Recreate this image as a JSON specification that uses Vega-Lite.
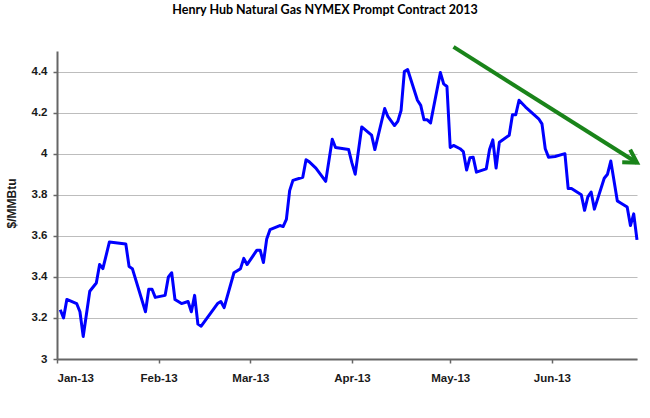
{
  "$schema": "https://vega.github.io/schema/vega-lite/v6.json",
  "width": 580,
  "height": 308,
  "autosize": {"type": "none"},
  "padding": {"left": 57, "top": 51, "right": 13, "bottom": 59},
  "background": "white",
  "title": {
    "text": "Henry Hub Natural Gas NYMEX Prompt Contract 2013",
    "font": "Lato",
    "fontSize": 12.5,
    "fontWeight": "bold",
    "color": "#000000",
    "anchor": "middle",
    "dx": -22,
    "offset": 28
  },
  "config": {
    "view": {"stroke": null},
    "style": {
      "guide-label": {"font": "Arial, Liberation Sans, sans-serif", "fontWeight": "bold"},
      "guide-title": {"font": "Arial, Liberation Sans, sans-serif", "fontWeight": "bold"}
    },
    "axis": {
      "labelFont": "Arial, Liberation Sans, sans-serif",
      "labelFontSize": 11.5,
      "labelFontWeight": "bold",
      "labelColor": "#1a1a1a",
      "titleFont": "Arial, Liberation Sans, sans-serif",
      "titleFontSize": 12,
      "titleFontWeight": "bold",
      "titleColor": "#1a1a1a",
      "domainColor": "#666666",
      "domainWidth": 2,
      "tickColor": "#666666",
      "tickWidth": 1.5,
      "tickSize": 4
    }
  },
  "layer": [
    {
      "data": {
        "values": [
          {"date": "2013-01-02", "price": 3.24},
          {"date": "2013-01-03", "price": 3.20},
          {"date": "2013-01-04", "price": 3.29},
          {"date": "2013-01-07", "price": 3.27},
          {"date": "2013-01-08", "price": 3.23},
          {"date": "2013-01-09", "price": 3.11},
          {"date": "2013-01-11", "price": 3.33},
          {"date": "2013-01-13", "price": 3.37},
          {"date": "2013-01-14", "price": 3.46},
          {"date": "2013-01-15", "price": 3.44},
          {"date": "2013-01-17", "price": 3.57},
          {"date": "2013-01-22", "price": 3.56},
          {"date": "2013-01-23", "price": 3.45},
          {"date": "2013-01-24", "price": 3.44},
          {"date": "2013-01-28", "price": 3.23},
          {"date": "2013-01-29", "price": 3.34},
          {"date": "2013-01-30", "price": 3.34},
          {"date": "2013-01-31", "price": 3.30},
          {"date": "2013-02-03", "price": 3.31},
          {"date": "2013-02-04", "price": 3.40},
          {"date": "2013-02-05", "price": 3.42},
          {"date": "2013-02-06", "price": 3.29},
          {"date": "2013-02-08", "price": 3.27},
          {"date": "2013-02-10", "price": 3.28},
          {"date": "2013-02-11", "price": 3.23},
          {"date": "2013-02-12", "price": 3.31},
          {"date": "2013-02-13", "price": 3.17},
          {"date": "2013-02-14", "price": 3.16},
          {"date": "2013-02-19", "price": 3.27},
          {"date": "2013-02-20", "price": 3.28},
          {"date": "2013-02-21", "price": 3.25},
          {"date": "2013-02-24", "price": 3.42},
          {"date": "2013-02-26", "price": 3.44},
          {"date": "2013-02-27", "price": 3.49},
          {"date": "2013-02-28", "price": 3.46},
          {"date": "2013-03-03", "price": 3.53},
          {"date": "2013-03-04", "price": 3.53},
          {"date": "2013-03-05", "price": 3.47},
          {"date": "2013-03-06", "price": 3.585},
          {"date": "2013-03-07", "price": 3.63},
          {"date": "2013-03-10", "price": 3.65},
          {"date": "2013-03-11", "price": 3.645},
          {"date": "2013-03-12", "price": 3.68},
          {"date": "2013-03-13", "price": 3.82},
          {"date": "2013-03-14", "price": 3.87},
          {"date": "2013-03-17", "price": 3.885},
          {"date": "2013-03-18", "price": 3.97},
          {"date": "2013-03-19", "price": 3.96},
          {"date": "2013-03-21", "price": 3.93},
          {"date": "2013-03-24", "price": 3.865},
          {"date": "2013-03-26", "price": 4.07},
          {"date": "2013-03-27", "price": 4.03},
          {"date": "2013-03-31", "price": 4.02},
          {"date": "2013-04-01", "price": 3.955},
          {"date": "2013-04-02", "price": 3.90},
          {"date": "2013-04-04", "price": 4.13},
          {"date": "2013-04-07", "price": 4.09},
          {"date": "2013-04-08", "price": 4.02},
          {"date": "2013-04-11", "price": 4.22},
          {"date": "2013-04-12", "price": 4.18},
          {"date": "2013-04-14", "price": 4.137},
          {"date": "2013-04-15", "price": 4.157},
          {"date": "2013-04-16", "price": 4.21},
          {"date": "2013-04-17", "price": 4.40},
          {"date": "2013-04-18", "price": 4.41},
          {"date": "2013-04-21", "price": 4.26},
          {"date": "2013-04-22", "price": 4.235},
          {"date": "2013-04-23", "price": 4.165},
          {"date": "2013-04-24", "price": 4.165},
          {"date": "2013-04-25", "price": 4.15},
          {"date": "2013-04-28", "price": 4.395},
          {"date": "2013-04-29", "price": 4.34},
          {"date": "2013-04-30", "price": 4.327},
          {"date": "2013-05-01", "price": 4.03},
          {"date": "2013-05-02", "price": 4.04},
          {"date": "2013-05-04", "price": 4.024},
          {"date": "2013-05-05", "price": 4.01},
          {"date": "2013-05-06", "price": 3.92},
          {"date": "2013-05-07", "price": 3.98},
          {"date": "2013-05-08", "price": 3.983},
          {"date": "2013-05-09", "price": 3.91},
          {"date": "2013-05-12", "price": 3.926},
          {"date": "2013-05-13", "price": 4.02},
          {"date": "2013-05-14", "price": 4.067},
          {"date": "2013-05-15", "price": 3.93},
          {"date": "2013-05-16", "price": 4.056},
          {"date": "2013-05-19", "price": 4.09},
          {"date": "2013-05-20", "price": 4.19},
          {"date": "2013-05-21", "price": 4.19},
          {"date": "2013-05-22", "price": 4.26},
          {"date": "2013-05-24", "price": 4.227},
          {"date": "2013-05-28", "price": 4.17},
          {"date": "2013-05-29", "price": 4.145},
          {"date": "2013-05-30", "price": 4.024},
          {"date": "2013-05-31", "price": 3.983},
          {"date": "2013-06-02", "price": 3.986},
          {"date": "2013-06-05", "price": 4.0},
          {"date": "2013-06-06", "price": 3.83},
          {"date": "2013-06-07", "price": 3.83},
          {"date": "2013-06-10", "price": 3.80},
          {"date": "2013-06-11", "price": 3.724},
          {"date": "2013-06-12", "price": 3.79},
          {"date": "2013-06-13", "price": 3.813},
          {"date": "2013-06-14", "price": 3.73},
          {"date": "2013-06-17", "price": 3.88},
          {"date": "2013-06-18", "price": 3.90},
          {"date": "2013-06-19", "price": 3.964},
          {"date": "2013-06-21", "price": 3.77},
          {"date": "2013-06-22", "price": 3.76},
          {"date": "2013-06-24", "price": 3.74},
          {"date": "2013-06-25", "price": 3.65},
          {"date": "2013-06-26", "price": 3.707},
          {"date": "2013-06-27", "price": 3.58}
        ]
      },
      "mark": {"type": "line", "color": "#0000FF", "strokeWidth": 3, "strokeJoin": "round"},
      "encoding": {
        "x": {
          "field": "date",
          "type": "temporal",
          "scale": {
            "type": "utc",
            "domain": [
              {"year": 2013, "month": 1, "date": 1, "utc": true},
              {"year": 2013, "month": 6, "date": 27, "utc": true}
            ]
          },
          "axis": {
            "title": null,
            "grid": false,
            "values": [
              {"year": 2013, "month": 1, "date": 1, "utc": true},
              {"year": 2013, "month": 2, "date": 1, "utc": true},
              {"year": 2013, "month": 3, "date": 1, "utc": true},
              {"year": 2013, "month": 4, "date": 1, "utc": true},
              {"year": 2013, "month": 5, "date": 1, "utc": true},
              {"year": 2013, "month": 6, "date": 1, "utc": true}
            ],
            "labelExpr": "utcFormat(datum.value, '%b-%y')",
            "labelFont": "Arial, Liberation Sans, sans-serif",
            "labelPadding": 9
          }
        },
        "y": {
          "field": "price",
          "type": "quantitative",
          "scale": {"domain": [3, 4.5], "zero": false, "nice": false},
          "axis": {
            "title": "$/MMBtu",
            "values": [3, 3.2, 3.4, 3.6, 3.8, 4, 4.2, 4.4],
            "format": "~g",
            "grid": true,
            "gridColor": "#bdbdbd",
            "gridWidth": 1.2,
            "labelFont": "Arial, Liberation Sans, sans-serif",
            "titleFont": "Arial, Liberation Sans, sans-serif",
            "labelPadding": 6,
            "titleX": -39,
            "titleY": 152
          }
        }
      }
    },
    {
      "data": {"values": [{"date": "2013-05-02", "price": 4.52, "date2": "2013-06-27", "price2": 3.956}]},
      "mark": {"type": "rule", "color": "#1A841A", "strokeWidth": 4},
      "encoding": {
        "x": {"field": "date", "type": "temporal"},
        "y": {"field": "price", "type": "quantitative"},
        "x2": {"field": "date2"},
        "y2": {"field": "price2"}
      }
    },
    {
      "data": {"values": [{"date2": "2013-06-27", "price2": 3.956}]},
      "mark": {
        "type": "point",
        "shape": "M-1.7,-1L0,0L-1.7,1",
        "filled": false,
        "stroke": "#1A841A",
        "strokeWidth": 4,
        "size": 225,
        "angle": 32,
        "opacity": 1
      },
      "encoding": {
        "x": {"field": "date2", "type": "temporal"},
        "y": {"field": "price2", "type": "quantitative"}
      }
    }
  ]
}
